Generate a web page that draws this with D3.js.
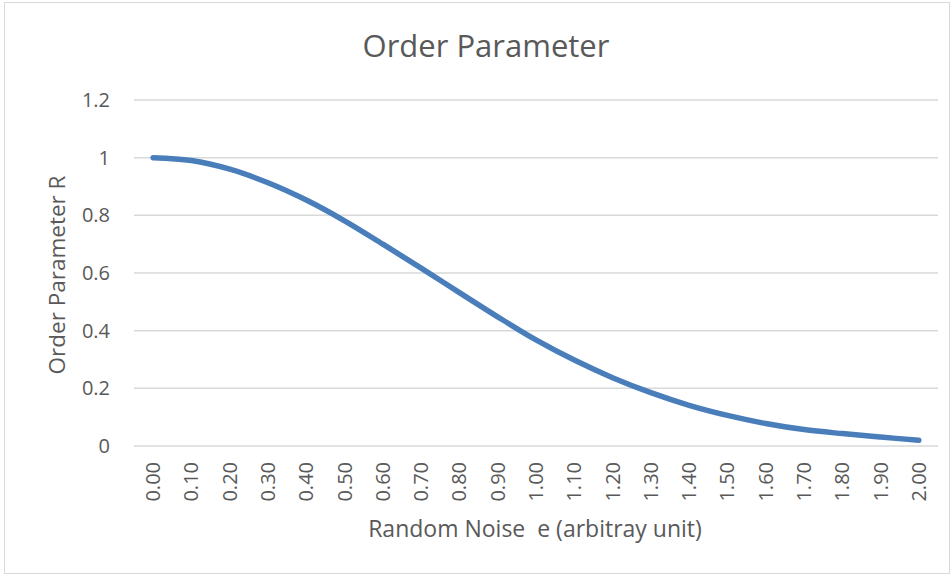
<!DOCTYPE html>
<html>
<head>
<meta charset="utf-8">
<script src="https://cdn.jsdelivr.net/npm/d3@7"></script>
<style>
  body { margin: 0; background: #fff; }
  text { font-family: "Open Sans", sans-serif; fill: #595959; }
</style>
</head>
<body>
<div id="chart"></div>
<script>
// noise levels on the category axis
var noise = ["0.00","0.10","0.20","0.30","0.40","0.50","0.60","0.70","0.80","0.90",
             "1.00","1.10","1.20","1.30","1.40","1.50","1.60","1.70","1.80","1.90","2.00"];
// order parameter R
var orderR = [1.0, 0.99, 0.96, 0.913, 0.853, 0.781, 0.700, 0.617, 0.532, 0.448,
              0.368, 0.298, 0.237, 0.185, 0.141, 0.106, 0.078, 0.057, 0.043, 0.031, 0.02];
var yTicks = [0, 0.2, 0.4, 0.6, 0.8, 1, 1.2];

var width = 952, height = 577;
var plotLeft = 134, plotRight = 938, plotTop = 100, plotBottom = 446;

var svg = d3.select("#chart")
  .append("svg")
  .attr("width", width)
  .attr("height", height);

// chart border
svg.append("rect")
  .attr("x", 4.5).attr("y", 2.5)
  .attr("width", 945).attr("height", 571)
  .attr("fill", "none")
  .attr("stroke", "#d9d9d9");

var x = d3.scalePoint()
  .domain(noise)
  .range([plotLeft, plotRight])
  .padding(0.5);

var y = d3.scaleLinear()
  .domain([0, 1.2])
  .range([plotBottom, plotTop]);

// gridlines
svg.selectAll(".grid")
  .data(yTicks)
  .enter()
  .append("line")
  .attr("x1", plotLeft).attr("x2", plotRight)
  .attr("y1", function(d) { return y(d); })
  .attr("y2", function(d) { return y(d); })
  .attr("stroke", "#d9d9d9")
  .attr("stroke-width", 1.5);

// y tick labels
svg.selectAll(".ylab")
  .data(yTicks)
  .enter()
  .append("text")
  .attr("x", 110)
  .attr("y", function(d) { return y(d); })
  .attr("dy", "0.35em")
  .attr("text-anchor", "end")
  .attr("font-size", "20px")
  .text(function(d) { return d; });

// x tick labels, rotated
svg.selectAll(".xlab")
  .data(noise)
  .enter()
  .append("text")
  .attr("transform", function(d) { return "translate(" + x(d) + ",462) rotate(-90)"; })
  .attr("dy", "0.35em")
  .attr("text-anchor", "end")
  .attr("font-size", "20px")
  .text(function(d) { return d; });

// smoothed line like Excel's
var line = d3.line()
  .x(function(d, i) { return x(noise[i]); })
  .y(function(d) { return y(d); })
  .curve(d3.curveCatmullRom.alpha(0.5));

svg.append("path")
  .datum(orderR)
  .attr("d", line)
  .attr("fill", "none")
  .attr("stroke", "#4a7ebb")
  .attr("stroke-width", 5.5)
  .attr("stroke-linecap", "round")
  .attr("stroke-linejoin", "round");

// titles
svg.append("text")
  .attr("x", 486).attr("y", 57)
  .attr("text-anchor", "middle")
  .attr("font-size", "31px")
  .text("Order Parameter");

svg.append("text")
  .attr("transform", "translate(65,275) rotate(-90)")
  .attr("text-anchor", "middle")
  .attr("font-size", "22.5px")
  .text("Order Parameter R");

svg.append("text")
  .attr("x", 535).attr("y", 537)
  .attr("text-anchor", "middle")
  .attr("font-size", "23px")
  .style("white-space", "pre")
  .text("Random Noise  e (arbitray unit)");
</script>
</body>
</html>
